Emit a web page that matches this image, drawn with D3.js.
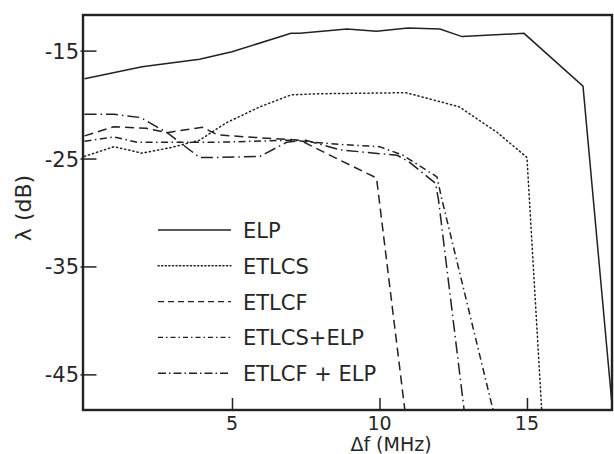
<!DOCTYPE html>
<html>
<head>
<meta charset="utf-8">
<script src="https://cdn.jsdelivr.net/npm/d3@7"></script>
<style>
  body { margin: 0; background: #fff; }
  svg { display: block; font-family: "DejaVu Sans", sans-serif; }
  .tick-label { font-size: 21px; fill: #262626; }
  .legend-label { font-size: 21px; fill: #262626; }
</style>
</head>
<body>
<div id="chart"></div>
<script>
// series: Δf (MHz) vs λ (dB)
const ELP_X = [0, 1.95, 3.9, 5.0, 7.0, 7.3, 8.9, 9.9, 10.97, 12.05, 12.8, 14.9, 16.9, 17.9];
const ELP_Y = [-17.6, -16.5, -15.8, -15.1, -13.4, -13.4, -13.0, -13.2, -12.9, -13.0, -13.7, -13.4, -18.3, -48.3];

const ETLCS_X = [0, 1, 1.95, 2.9, 3.9, 4.8, 5.95, 7.0, 7.9, 10.9, 12.7, 14.0, 15.0, 15.5];
const ETLCS_Y = [-24.8, -23.9, -24.5, -24.0, -23.3, -21.7, -20.2, -19.1, -19.0, -18.9, -20.2, -22.6, -24.9, -48.3];

const ETLCF_X = [0, 1, 2.1, 2.8, 4.0, 4.5, 5.5, 7.3, 8.4, 9.9, 10.86];
const ETLCF_Y = [-22.9, -22.05, -22.2, -22.6, -22.1, -22.8, -23.0, -23.3, -24.8, -26.8, -48.3];

const ETLCS_ELP_X = [0, 1, 1.8, 4.4, 7.0, 8.67, 10.0, 10.8, 11.95, 12.1, 13.85];
const ETLCS_ELP_Y = [-23.4, -23.0, -23.5, -23.5, -23.3, -23.7, -23.9, -24.7, -26.7, -28.6, -48.3];

const ETLCF_ELP_X = [0, 1, 1.9, 2.8, 3.9, 4.5, 5.95, 6.85, 7.5, 8.67, 10.6, 11.0, 11.9, 12.0, 12.87];
const ETLCF_ELP_Y = [-20.9, -20.9, -21.2, -22.6, -24.9, -24.9, -24.8, -23.5, -23.3, -24.2, -24.7, -25.3, -27.3, -28.8, -48.3];

const SERIES_NAMES = ["ELP", "ETLCS", "ETLCF", "ETLCS+ELP", "ETLCF + ELP"];
const X_TICKS = [5, 10, 15];
const Y_TICKS = [-15, -25, -35, -45];

const W = 614, H = 454;
const ink = "#222";

const series = [
  { name: SERIES_NAMES[0], xs: ELP_X, ys: ELP_Y, dash: null, legendDash: null },
  { name: SERIES_NAMES[1], xs: ETLCS_X, ys: ETLCS_Y, dash: "1.2,3", legendDash: "1.2,2.4", dots: true },
  { name: SERIES_NAMES[2], xs: ETLCF_X, ys: ETLCF_Y, dash: "9,5", legendDash: "6,4" },
  { name: SERIES_NAMES[3], xs: ETLCS_ELP_X, ys: ETLCS_ELP_Y, dash: "7,3.5,1.5,3.5", legendDash: "5,3,1.5,3" },
  { name: SERIES_NAMES[4], xs: ETLCF_ELP_X, ys: ETLCF_ELP_Y, dash: "12,4,1.5,4", legendDash: "8,3,1.5,3" }
];

const svg = d3.select("#chart").append("svg")
    .attr("width", W).attr("height", H);

const x = d3.scaleLinear().domain([0, 17.9]).range([84.5, 612.5]);
const y = d3.scaleLinear().domain([-48.3, -11.7]).range([410, 15]);

// clip so the drops stop at the frame
svg.append("clipPath").attr("id", "plot-clip")
  .append("rect").attr("x", 83).attr("y", 15).attr("width", 530).attr("height", 395);

const line = d3.line().x(d => x(d[0])).y(d => y(d[1]));

const lines = svg.append("g").attr("clip-path", "url(#plot-clip)");
series.forEach(s => {
  lines.append("path")
      .datum(s.xs.map((v, i) => [v, s.ys[i]]))
      .attr("d", line)
      .attr("fill", "none")
      .attr("stroke", ink)
      .attr("stroke-width", 1.5)
      .attr("stroke-dasharray", s.dash)
      .attr("stroke-linecap", s.dots ? "round" : "butt");
});

// frame
svg.append("rect").attr("x", 83).attr("y", 15).attr("width", 529).attr("height", 395)
    .attr("fill", "none").attr("stroke", ink).attr("stroke-width", 2.4);

// axes: ticks point into the plot
const xAxis = svg.append("g").attr("transform", `translate(0,${y(-48.3)})`)
    .call(d3.axisTop(x).tickValues(X_TICKS).tickSize(12).tickFormat(""));
xAxis.select(".domain").remove();
xAxis.selectAll("line").attr("stroke", ink).attr("stroke-width", 1.5);
svg.selectAll(".xlab").data(X_TICKS).join("text").attr("class", "tick-label")
    .attr("x", d => x(d)).attr("y", 430).attr("text-anchor", "middle")
    .style("font-size", "19px").text(d => d);

const yAxis = svg.append("g").attr("transform", `translate(${x(0) - 4},0)`)
    .call(d3.axisRight(y).tickValues(Y_TICKS).tickSize(16).tickFormat(""));
yAxis.select(".domain").remove();
yAxis.selectAll("line").attr("stroke", ink).attr("stroke-width", 1.5);
svg.selectAll(".ylab").data(Y_TICKS).join("text").attr("class", "tick-label")
    .attr("x", 79).attr("y", d => y(d) + 8).attr("text-anchor", "end").text(d => d);

// axis titles
svg.append("text").attr("class", "tick-label")
    .attr("x", 391).attr("y", 451).attr("text-anchor", "middle")
    .style("font-size", "19px").text("Δf (MHz)");
svg.append("text").attr("class", "tick-label")
    .attr("transform", "translate(31,208) rotate(-90)")
    .attr("text-anchor", "middle").style("font-size", "22px").text("λ (dB)");

// legend
const legend = svg.append("g");
series.forEach((s, i) => {
  const ly = 230 + i * 35.8;
  legend.append("line")
      .attr("x1", 158).attr("x2", 231).attr("y1", ly).attr("y2", ly)
      .attr("stroke", ink).attr("stroke-width", 1.4)
      .attr("stroke-linecap", s.dots ? "round" : "butt")
      .attr("stroke-dasharray", s.legendDash);
  legend.append("text").attr("class", "legend-label")
      .attr("x", 243).attr("y", ly + 8).text(s.name);
});
</script>
</body>
</html>
